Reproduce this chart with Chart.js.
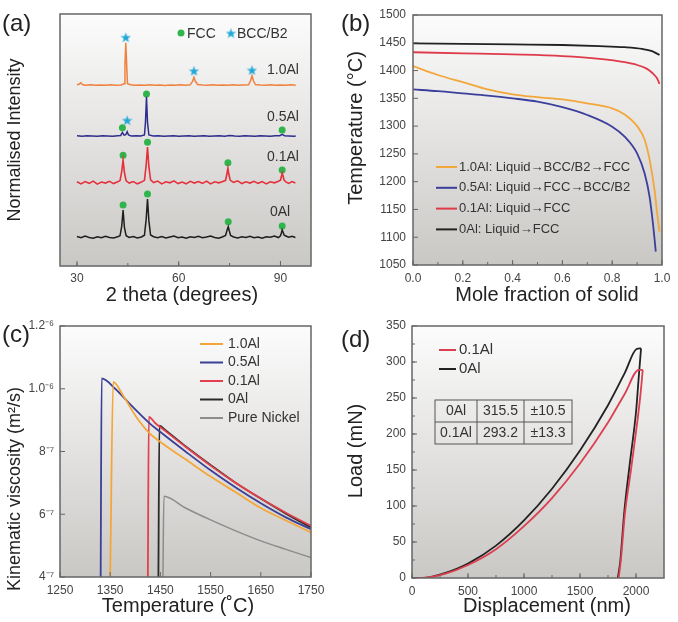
<!DOCTYPE html>
<html>
<head>
<meta charset="utf-8">
<script src="https://cdn.jsdelivr.net/npm/chart.js@4.4.1/dist/chart.umd.min.js"></script>
<style>
  body { margin: 0; background: #fff; }
  #wrap { position: relative; width: 678px; height: 622px; font-family: "Liberation Sans", Arial, sans-serif; }
  canvas { position: absolute; }
  .lbl { position: absolute; font-size: 24px; line-height: 1; color: #222; }
</style>
</head>
<body>
<div id="wrap">
  <canvas id="chartA" width="339" height="311" style="left:0;top:0"></canvas>
  <canvas id="chartB" width="339" height="311" style="left:339px;top:0"></canvas>
  <canvas id="chartC" width="339" height="311" style="left:0;top:311px"></canvas>
  <canvas id="chartD" width="339" height="311" style="left:339px;top:311px"></canvas>
  <div class="lbl" style="left:2px;top:11px">(a)</div>
  <div class="lbl" style="left:341px;top:11px">(b)</div>
  <div class="lbl" style="left:2px;top:322px">(c)</div>
  <div class="lbl" style="left:341px;top:327px">(d)</div>
</div>
<script>
// ---------- (a) XRD patterns: [2theta, offset intensity] ----------
const xrd1Al = [[30,71.9],[30.6,72.1],[31.1,72.7],[31.6,72.0],[32.5,71.7],[34,71.9],[35.5,71.7],[37,71.8],[38.5,71.7],[40,71.9],[41.5,71.7],[43,71.8],[43.9,72.3],[44.15,80],[44.4,88.6],[44.65,80],[44.9,72.3],[45.8,71.9],[47,71.7],[48.5,71.8],[50,71.7],[51.5,71.9],[53,71.7],[54.5,71.8],[56,71.6],[57.5,71.8],[59,71.7],[60.5,71.9],[62,71.7],[63.4,71.9],[64.1,73.3],[64.5,74.9],[64.9,73.3],[65.6,72.0],[67,71.8],[68.5,71.7],[70,71.9],[71.5,71.7],[73,71.8],[74.5,71.7],[76,71.9],[77.5,71.7],[79,71.8],[80.6,71.9],[81.2,73.6],[81.6,75.5],[82,73.6],[82.6,72.0],[84,71.8],[85.5,71.7],[87,71.9],[88.5,71.7],[90,71.8],[91.5,71.7],[93,71.9],[94.5,71.7]];
const xrd05Al = [[30,51.7],[31.5,51.5],[33,51.7],[34.5,51.6],[36,51.5],[37.5,51.7],[39,51.6],[40.5,51.5],[42,51.7],[42.9,51.8],[43.4,53.0],[43.9,51.9],[44.4,52.1],[44.8,53.3],[45.2,52.0],[46,51.6],[47.5,51.7],[48.8,51.6],[49.9,52.0],[50.2,57.0],[50.5,67.2],[50.8,57.0],[51.2,52.0],[52.5,51.6],[54,51.7],[55.5,51.5],[57,51.6],[58.5,51.7],[60,51.5],[61.5,51.6],[63,51.7],[64.5,51.5],[66,51.6],[67.5,51.7],[69,51.5],[70.5,51.6],[72,51.7],[73.5,51.5],[75,51.8],[76.5,51.6],[78,51.5],[79.5,51.7],[81,51.6],[82.5,51.5],[84,51.7],[85.5,51.6],[87,51.5],[88.5,51.7],[89.8,51.7],[90.5,52.2],[91.2,51.7],[92.5,51.6],[94,51.5],[94.5,51.6]];
const xrd01Al = [[30,33.4],[31.2,32.6],[32.4,33.5],[33.6,32.8],[34.8,33.7],[36,32.5],[37.2,33.3],[38.4,32.9],[39.6,33.6],[40.8,32.7],[42,33.4],[42.7,33.9],[43.2,37.5],[43.6,42.0],[44,37.0],[44.5,33.8],[45.4,32.9],[46.6,33.5],[47.8,32.6],[49,33.3],[49.9,34.0],[50.4,40.0],[50.8,47.2],[51.2,39.5],[51.7,34.2],[52.6,33.1],[53.8,33.7],[55,32.6],[56.2,33.4],[57.4,33.0],[58.6,33.8],[59.8,32.7],[61,33.3],[62.2,32.6],[63.4,33.6],[64.6,32.9],[65.8,33.5],[67,32.8],[68.2,33.7],[69.4,32.6],[70.6,33.4],[71.8,33.0],[73,33.5],[73.8,34.0],[74.2,36.5],[74.5,38.9],[74.8,36.3],[75.2,34.0],[76.2,33.2],[77.4,33.8],[78.6,32.7],[79.8,33.4],[81,32.9],[82.2,33.6],[83.4,32.8],[84.6,33.5],[85.8,32.6],[87,33.4],[88.2,33.0],[89.4,33.6],[90,34.0],[90.3,35.6],[90.5,36.9],[90.8,35.5],[91.1,34.0],[91.6,33.4],[92.4,32.8],[93.4,33.5],[94.4,32.9]];
const xrd0Al = [[30,11.7],[31.2,11.2],[32.4,11.9],[33.6,11.3],[34.8,11.0],[36,11.6],[37.2,11.2],[38.4,11.8],[39.6,11.3],[40.8,11.1],[42,11.6],[42.7,12.0],[43.2,15.8],[43.6,22.2],[44,15.2],[44.5,12.0],[45.4,11.3],[46.6,11.7],[47.8,11.1],[49,11.5],[49.9,12.2],[50.4,18.5],[50.8,26.6],[51.2,18.0],[51.7,12.3],[52.6,11.6],[53.8,11.2],[55,11.7],[56.2,11.1],[57.4,11.5],[58.6,11.9],[59.8,11.2],[61,11.5],[62.2,11.0],[63.4,11.6],[64.6,11.3],[65.8,11.8],[67,11.2],[68.2,11.5],[69.4,11.9],[70.6,11.3],[71.8,11.0],[73,11.6],[73.8,12.1],[74.2,14.0],[74.6,15.6],[74.9,14.0],[75.3,12.1],[76.2,11.5],[77.4,11.1],[78.6,11.6],[79.8,11.3],[81,11.8],[82.2,11.2],[83.4,11.5],[84.6,11.0],[85.8,11.6],[87,11.4],[88.2,11.9],[89.4,11.3],[90,12.0],[90.3,13.3],[90.5,14.3],[90.8,13.3],[91.1,12.2],[91.6,11.9],[92.4,11.4],[93.4,11.8],[94.4,11.3]];
const fccMarks = [[43.6,24.2],[50.8,28.6],[74.6,17.6],[90.5,15.9],[43.6,43.9],[50.8,49.1],[74.5,41.0],[90.5,38.1],[43.4,54.9],[50.5,68.3],[90.5,54.0]];
const bccMarks = [[44.4,90.8],[64.5,77.5],[81.6,77.8],[44.8,57.9]];
const xrdNames = ['1.0Al', '0.5Al', '0.1Al', '0Al'];
const xrdTicks = [30, 60, 90];

// ---------- (b) solidification: [mole fraction solid, T] ----------
const solid1Al = [[0,1408],[0.1,1392],[0.2,1379],[0.3,1366],[0.4,1357],[0.5,1352],[0.6,1348],[0.7,1341],[0.8,1332],[0.85,1321],[0.9,1300],[0.93,1276],[0.95,1240],[0.97,1185],[0.98,1145],[0.99,1110]];
const solid05Al = [[0,1366],[0.1,1363],[0.2,1359],[0.3,1355],[0.4,1350],[0.5,1344],[0.6,1334],[0.7,1320],[0.8,1299],[0.85,1281],[0.9,1251],[0.93,1215],[0.95,1173],[0.965,1119],[0.975,1074]];
const solid01Al = [[0,1433],[0.2,1431],[0.4,1429],[0.6,1426],[0.75,1421],[0.85,1415],[0.9,1410],[0.94,1403],[0.96,1396],[0.98,1386],[0.99,1376]];
const solid0Al = [[0,1449],[0.2,1448],[0.4,1447],[0.6,1446],[0.75,1444],[0.85,1442],[0.92,1439],[0.96,1435],[0.99,1428]];
const solidNames = ['1.0Al: Liquid\u2192BCC/B2\u2192FCC', '0.5Al: Liquid\u2192FCC\u2192BCC/B2', '0.1Al: Liquid\u2192FCC', '0Al: Liquid\u2192FCC'];

// ---------- (c) kinematic viscosity: [T, viscosity x1e-7 m2/s] ----------
const visc1Al = [[1350,4],[1356,10.22],[1375,9.8],[1400,9.15],[1427,8.6],[1450,8.3],[1500,7.75],[1550,7.2],[1600,6.7],[1650,6.2],[1700,5.8],[1750,5.42]];
const visc05Al = [[1331,4],[1333,10.33],[1360,10.0],[1390,9.5],[1427,8.92],[1450,8.62],[1500,8.0],[1550,7.4],[1600,6.85],[1650,6.35],[1700,5.9],[1750,5.52]];
const visc01Al = [[1425,4],[1427,9.1],[1440,8.9],[1460,8.65],[1500,8.15],[1550,7.55],[1600,7.0],[1650,6.5],[1700,6.05],[1750,5.63]];
const visc0Al = [[1446,4],[1448,8.82],[1460,8.68],[1500,8.17],[1550,7.57],[1600,7.0],[1650,6.5],[1700,6.02],[1750,5.58]];
const viscNi = [[1455,4],[1457,6.57],[1500,6.2],[1550,5.82],[1600,5.47],[1650,5.15],[1700,4.88],[1750,4.62]];
const viscNames = ['1.0Al', '0.5Al', '0.1Al', '0Al', 'Pure Nickel'];
const viscTickValues = [4, 6, 8, 10, 12];
const viscTickLabels = ['4\u207B\u2077', '6\u207B\u2077', '8\u207B\u2077', '1.0\u207B\u2076', '1.2\u207B\u2076'];

// ---------- (d) nanoindentation: [displacement nm, load mN] ----------
const load01Al = [[0,0],[150,1],[300,6],[500,18],[750,40],[1000,72],[1250,111],[1500,159],[1750,216],[1900,256],[2025,289],[2060,289]];
const unload01Al = [[1845,0],[1865,25],[1900,88],[1955,150],[2010,215],[2040,255],[2060,289]];
const load0Al = [[0,0],[150,1],[300,7],[500,20],[750,45],[1000,80],[1250,124],[1500,177],[1750,240],[1900,285],[2005,318],[2045,319]];
const unload0Al = [[1838,0],[1860,24],[1896,93],[1947,162],[2001,232],[2025,280],[2045,319]];
const indentNames = ['0.1Al', '0Al'];
const indentTicks = [0, 500, 1000, 1500, 2000];
const hardnessTable = [['0Al', '315.5', '\u00B110.5'], ['0.1Al', '293.2', '\u00B113.3']];

const FONT = "'Liberation Sans', Arial, sans-serif";
Chart.defaults.font.family = FONT;
Chart.defaults.color = '#444';

const pts = arr => arr.map(p => ({ x: p[0], y: p[1] }));

function text(ctx, str, x, y, size, opts = {}) {
  ctx.save();
  ctx.font = size + 'px ' + FONT;
  ctx.fillStyle = opts.color || '#222';
  ctx.textAlign = opts.align || 'center';
  ctx.textBaseline = 'middle';
  ctx.translate(x, y);
  if (opts.rotate) ctx.rotate(-Math.PI / 2);
  ctx.fillText(str, 0, 0);
  ctx.restore();
}

function starImage(size, color) {
  const c = document.createElement('canvas');
  c.width = c.height = size;
  const g = c.getContext('2d');
  g.fillStyle = color;
  g.beginPath();
  for (let i = 0; i < 10; i++) {
    const r = i % 2 ? size * 0.2 : size * 0.5;
    const a = -Math.PI / 2 + i * Math.PI / 5;
    g.lineTo(size / 2 + r * Math.cos(a), size / 2 + r * Math.sin(a) + size * 0.06);
  }
  g.closePath();
  g.fill();
  return c;
}
const STAR = starImage(11, '#1ea8d8');

function innerTicks(ctx, scale, area, minorStep, horizontal) {
  const mark = (v, len) => {
    const p = scale.getPixelForValue(v);
    ctx.beginPath();
    if (horizontal) { ctx.moveTo(p, area.bottom); ctx.lineTo(p, area.bottom - len); }
    else { ctx.moveTo(area.left, p); ctx.lineTo(area.left + len, p); }
    ctx.stroke();
  };
  if (minorStep) {
    for (let v = Math.ceil(scale.min / minorStep) * minorStep; v < scale.max - 1e-9; v += minorStep) mark(v, 3);
  }
  scale.ticks.forEach(t => mark(t.value, 5));
}

// background gradient, frame, inward ticks, axis titles, legend
function decor(cfg) {
  return {
    id: 'decor',
    beforeDraw(chart) {
      const { ctx, chartArea: a } = chart;
      const g = ctx.createLinearGradient(0, a.top, 0, a.bottom);
      g.addColorStop(0, '#fcfcfc');
      g.addColorStop(1, '#cac8c5');
      ctx.save();
      ctx.fillStyle = g;
      ctx.fillRect(a.left, a.top, a.width, a.height);
      ctx.restore();
    },
    afterDraw(chart) {
      const { ctx, chartArea: a, scales } = chart;
      ctx.save();
      ctx.strokeStyle = '#666';
      ctx.lineWidth = 1;
      innerTicks(ctx, scales.x, a, cfg.xMinor, true);
      if (cfg.yTicks !== false) innerTicks(ctx, scales.y, a, cfg.yMinor, false);
      ctx.lineWidth = 1.5;
      ctx.strokeRect(a.left, a.top, a.width, a.height);
      ctx.restore();

      text(ctx, cfg.xTitle[0], cfg.xTitle[1], cfg.xTitle[2], cfg.xTitle[3]);
      text(ctx, cfg.yTitle[0], cfg.yTitle[1], cfg.yTitle[2], cfg.yTitle[3], { rotate: true });

      if (cfg.legend) {
        const L = cfg.legend;
        const sets = chart.data.datasets.filter(d => d.label);
        sets.forEach((d, i) => {
          const y = L.y0 + i * L.dy;
          ctx.save();
          ctx.strokeStyle = d.borderColor;
          ctx.lineWidth = 2;
          ctx.beginPath();
          ctx.moveTo(L.x0, y);
          ctx.lineTo(L.x1, y);
          ctx.stroke();
          ctx.restore();
          text(ctx, d.label, L.tx, y, L.size, { align: 'left', color: '#333' });
        });
      }
      if (cfg.extra) cfg.extra(ctx, chart);
    }
  };
}

function baseOptions(box, xOpts, yOpts) {
  return {
    responsive: false,
    animation: false,
    devicePixelRatio: 1,
    layout: { padding: { left: 0, top: box.top, right: 339 - box.right, bottom: 0 } },
    plugins: { legend: { display: false }, tooltip: { enabled: false } },
    elements: { point: { radius: 0 } },
    scales: {
      x: Object.assign({
        type: 'linear',
        afterFit: s => { s.height = 311 - box.bottom; },
        grid: { display: false, drawTicks: false },
        border: { display: false },
      }, xOpts),
      y: Object.assign({
        type: 'linear',
        afterFit: s => { s.width = box.left; },
        grid: { display: false, drawTicks: false },
        border: { display: false },
      }, yOpts)
    }
  };
}

function tickStyle(extra) {
  return Object.assign({ color: '#444', font: { size: 12 }, includeBounds: false, autoSkip: false, maxRotation: 0, callback: v => String(v) }, extra);
}

// ---------- chart (a) ----------
new Chart(document.getElementById('chartA'), {
  type: 'line',
  data: {
    datasets: [
      { data: pts(xrd1Al), borderColor: '#f0813e', borderWidth: 1.5, tension: 0 },
      { data: pts(xrd05Al), borderColor: '#2d2e8e', borderWidth: 1.5, tension: 0 },
      { data: pts(xrd01Al), borderColor: '#e5303b', borderWidth: 1.6, tension: 0 },
      { data: pts(xrd0Al), borderColor: '#1e1e1e', borderWidth: 1.5, tension: 0 },
      { data: pts(fccMarks), showLine: false, pointRadius: 3.5, pointBackgroundColor: '#2fb54b', pointBorderWidth: 0 },
      { data: pts(bccMarks), showLine: false, pointStyle: STAR, pointRadius: 5 }
    ]
  },
  options: baseOptions({ left: 60, right: 311, top: 14, bottom: 266 },
    { min: 25, max: 99, afterBuildTicks: s => { s.ticks = xrdTicks.map(v => ({ value: v })); }, ticks: tickStyle({ padding: 5 }) },
    { min: 0, max: 100, ticks: { display: false } }),
  plugins: [decor({
    xMinor: 15, yTicks: false,
    xTitle: ['2 theta (degrees)', 182, 295, 20],
    yTitle: ['Normalised Intensity', 15, 140, 18],
    extra(ctx) {
      const ys = [70, 117, 157, 212];
      xrdNames.forEach((n, i) => text(ctx, n, i === 3 ? 270 : 267, ys[i], 14, { align: 'left', color: '#333' }));
      ctx.save();
      ctx.fillStyle = '#2fb54b';
      ctx.beginPath();
      ctx.arc(181, 33, 3.5, 0, Math.PI * 2);
      ctx.fill();
      ctx.drawImage(STAR, 231 - 5.5, 33 - 5.5);
      ctx.restore();
      text(ctx, 'FCC', 187, 34, 14, { align: 'left', color: '#333' });
      text(ctx, 'BCC/B2', 237, 34, 14, { align: 'left', color: '#333' });
    }
  })]
});

// ---------- chart (b) ----------
new Chart(document.getElementById('chartB'), {
  type: 'line',
  data: {
    datasets: [
      { label: solidNames[0], data: pts(solid1Al), borderColor: '#f3a73a', borderWidth: 1.8, cubicInterpolationMode: 'monotone' },
      { label: solidNames[1], data: pts(solid05Al), borderColor: '#3b3f9b', borderWidth: 1.8, cubicInterpolationMode: 'monotone' },
      { label: solidNames[2], data: pts(solid01Al), borderColor: '#de3a4a', borderWidth: 1.8, cubicInterpolationMode: 'monotone' },
      { label: solidNames[3], data: pts(solid0Al), borderColor: '#222', borderWidth: 1.8, cubicInterpolationMode: 'monotone' }
    ]
  },
  options: baseOptions({ left: 74, right: 323, top: 15, bottom: 265 },
    { min: 0, max: 1, ticks: tickStyle({ stepSize: 0.2, padding: 6, callback: v => v.toFixed(1) }) },
    { min: 1050, max: 1500, ticks: tickStyle({ stepSize: 50, padding: 7 }) }),
  plugins: [decor({
    xMinor: 0.1,
    xTitle: ['Mole fraction of solid', 208, 295, 20],
    yTitle: ['Temperature (\u00B0C)', 17, 128, 20],
    legend: { x0: 97, x1: 118, tx: 120, y0: 167, dy: 20.8, size: 13 }
  })]
});

// ---------- chart (c) ----------
new Chart(document.getElementById('chartC'), {
  type: 'line',
  data: {
    datasets: [
      { label: viscNames[0], data: pts(visc1Al), borderColor: '#f3a73a', borderWidth: 1.8, cubicInterpolationMode: 'monotone' },
      { label: viscNames[1], data: pts(visc05Al), borderColor: '#3a3f97', borderWidth: 1.8, cubicInterpolationMode: 'monotone' },
      { label: viscNames[2], data: pts(visc01Al), borderColor: '#e2404c', borderWidth: 1.8, cubicInterpolationMode: 'monotone' },
      { label: viscNames[3], data: pts(visc0Al), borderColor: '#2a2a2a', borderWidth: 1.8, cubicInterpolationMode: 'monotone' },
      { label: viscNames[4], data: pts(viscNi), borderColor: '#8c8c8c', borderWidth: 1.5, cubicInterpolationMode: 'monotone' }
    ]
  },
  options: baseOptions({ left: 60, right: 311, top: 15, bottom: 266 },
    { min: 1250, max: 1750, ticks: tickStyle({ stepSize: 100, padding: 6 }) },
    { min: 4, max: 12, ticks: tickStyle({ stepSize: 2, padding: 6, callback: v => viscTickLabels[viscTickValues.indexOf(v)] }) }),
  plugins: [decor({
    xTitle: ['Temperature (\u02DAC)', 178, 295, 20],
    yTitle: ['Kinematic viscosity (m\u00B2/s)', 15, 178, 18],
    legend: { x0: 200, x1: 223, tx: 228, y0: 33, dy: 18.5, size: 14 }
  })]
});

// ---------- chart (d) ----------
new Chart(document.getElementById('chartD'), {
  type: 'line',
  data: {
    datasets: [
      { label: indentNames[0], data: pts(load01Al), borderColor: '#dc3f50', borderWidth: 1.8, cubicInterpolationMode: 'monotone' },
      { label: indentNames[1], data: pts(load0Al), borderColor: '#222', borderWidth: 1.8, cubicInterpolationMode: 'monotone' },
      { data: pts(unload01Al), borderColor: '#dc3f50', borderWidth: 1.8, cubicInterpolationMode: 'monotone' },
      { data: pts(unload0Al), borderColor: '#222', borderWidth: 1.8, cubicInterpolationMode: 'monotone' }
    ]
  },
  options: baseOptions({ left: 73, right: 325, top: 15, bottom: 267 },
    { min: 0, max: 2250, afterBuildTicks: s => { s.ticks = indentTicks.map(v => ({ value: v })); }, ticks: tickStyle({ padding: 6 }) },
    { min: 0, max: 350, ticks: tickStyle({ stepSize: 50, padding: 6 }) }),
  plugins: [decor({
    xMinor: 250, yMinor: 25,
    xTitle: ['Displacement (nm)', 208, 295, 20],
    yTitle: ['Load (mN)', 17, 140, 20],
    legend: { x0: 100, x1: 117, tx: 120, y0: 39, dy: 19, size: 15 },
    extra(ctx) {
      const cols = [96, 138, 185, 233];
      const rows = [89, 111, 133];
      ctx.save();
      ctx.strokeStyle = '#555';
      ctx.lineWidth = 1;
      ctx.strokeRect(cols[0], rows[0], cols[3] - cols[0], rows[2] - rows[0]);
      ctx.beginPath();
      ctx.moveTo(cols[0], rows[1]); ctx.lineTo(cols[3], rows[1]);
      ctx.moveTo(cols[1], rows[0]); ctx.lineTo(cols[1], rows[2]);
      ctx.moveTo(cols[2], rows[0]); ctx.lineTo(cols[2], rows[2]);
      ctx.stroke();
      ctx.restore();
      hardnessTable.forEach((r, i) => {
        r.forEach((cell, j) => text(ctx, cell, (cols[j] + cols[j + 1]) / 2, (rows[i] + rows[i + 1]) / 2 + 0.5, 14, { color: '#333' }));
      });
    }
  })]
});
</script>
</body>
</html>
